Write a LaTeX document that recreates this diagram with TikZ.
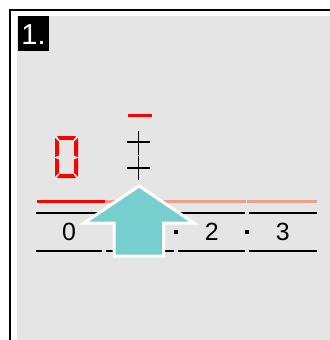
\documentclass[tikz,border=0pt]{standalone}
\usepackage{fontspec}
\setmainfont{Liberation Sans}
\definecolor{panelgray}{HTML}{E5E5E5}
\definecolor{segred}{HTML}{FF0000}
\definecolor{salmon}{HTML}{EAA18A}
\definecolor{arrowteal}{HTML}{76CFCE}
\begin{document}
\begin{tikzpicture}[x=1bp,y=-1bp,
  rule/.style={line width=2bp, black},
  lab/.style={font=\fontsize{25}{25}\selectfont, inner sep=0pt, anchor=center},
  seg/.style={fill=segred},
  crossline/.style={line width=1.8bp, black},
]
\useasboundingbox (0,0) rectangle (330,340);
\fill[white] (0,0) rectangle (330,340);
\fill[panelgray] (17,16) rectangle (330,340);
\draw[line width=1.6bp] (10,340) -- (10,10) -- (330,10);
% step badge
\fill[black] (18,16) rectangle (49,50.5);
\node[text=white, font=\fontsize{29}{29}\selectfont, inner sep=0pt] (stepno) at (33.5,35) {1.};
% seven-segment zero
\fill[seg] (57,136)--(76,136)--(73.5,139.8)--(59.5,139.8)--cycle;
\fill[seg] (55,138)--(58.8,141.5)--(58.8,155.5)--(55,157)--cycle;
\fill[seg] (55,158)--(58.8,159.5)--(58.8,173)--(55,176.5)--cycle;
\fill[seg] (78,138)--(74.2,141.5)--(74.2,155.5)--(78,157)--cycle;
\fill[seg] (78,158)--(74.2,159.5)--(74.2,173)--(78,176.5)--cycle;
\fill[seg] (59.5,174.2)--(73.5,174.2)--(76,178)--(57,178)--cycle;
% red dash and crosses
\draw[segred, line width=3bp] (128,115) -- (152,115);
\draw[crossline] (138.5,131) -- (138.5,155) (127,142) -- (150,142);
\draw[crossline] (138.5,156) -- (138.5,180) (127,168) -- (150,168);
% level bar
\draw[segred, line width=3bp] (37,201.5) -- (105,201.5);
\draw[salmon, line width=3bp] (105,201.5) -- (245.5,201.5) (247,201.5) -- (317,201.5);
% scale rules
\foreach \yy in {212.7,250.7}{
  \draw[rule] (36,\yy) -- (102,\yy) (106,\yy) -- (174,\yy) (178,\yy) -- (245,\yy) (249,\yy) -- (317,\yy);
}
\fill[black] (174.4,230.4) rectangle (177.6,233.6);
\fill[black] (245.4,230.4) rectangle (248.6,233.6);
\node[lab] (l0) at (69,232) {0};
\node[lab] (l2) at (211.7,232) {2};
\node[lab] (l3) at (282.7,232) {3};
% arrow
\draw[white, line width=3bp, fill=arrowteal, line join=miter]
  (139,186) -- (194,223) -- (163.5,223) -- (163.5,256) -- (114,256) -- (114,223) -- (84,223) -- cycle;
\end{tikzpicture}
\end{document}
